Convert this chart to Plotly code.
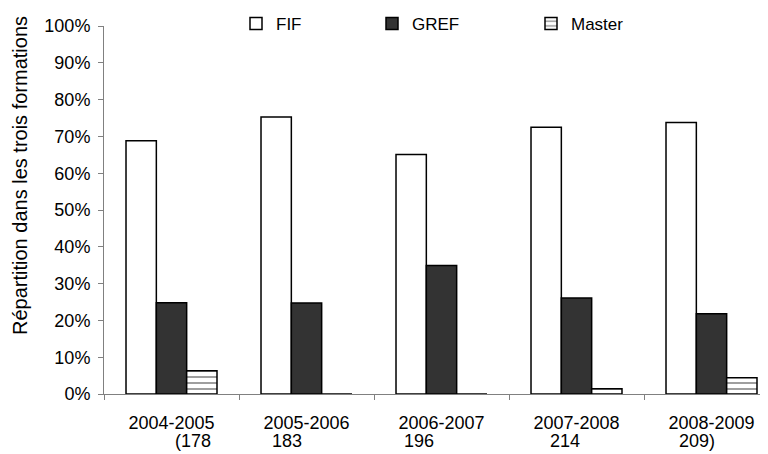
import plotly.graph_objects as go

categories = ["2004-2005", "2005-2006", "2006-2007", "2007-2008", "2008-2009"]
counts = ["(178", "183", "196", "214", "209)"]
count_shift = [21, -20, -23, -12, -15]
fif = [68.8, 75.3, 65.1, 72.5, 73.8]
gref = [24.8, 24.7, 34.9, 26.1, 21.8]
master = [6.3, 0, 0, 1.4, 4.4]
yticks = [0, 10, 20, 30, 40, 50, 60, 70, 80, 90, 100]

FONT = "Liberation Sans, Arial, sans-serif"
OFF = 8  # default page body margin
W, H = 768 - OFF, 454 - OFF
# plot area in screen pixels
SL, SR, ST, SB = 104, 768, 26, 394
PL, PR, PT, PB = SL - OFF, SR - OFF, ST - OFF, SB - OFF
PW, PH = PR - PL, PB - PT
x_idx = list(range(len(categories)))

fig = go.Figure()
fig.add_trace(go.Bar(x=x_idx, y=fif, name="FIF", legend="legend",
                     marker=dict(color="white", line=dict(color="black", width=1.5))))
fig.add_trace(go.Bar(x=x_idx, y=gref, name="GREF", legend="legend2",
                     marker=dict(color="#333333", line=dict(color="black", width=1.5))))
fig.add_trace(go.Bar(x=x_idx, y=master, name="Master", legend="legend3",
                     marker=dict(color="white", line=dict(color="black", width=1.5),
                                 pattern=dict(shape="-", fgcolor="black", bgcolor="white",
                                              size=6, solidity=0.25))))

annotations = []
for i, (c, s) in enumerate(zip(counts, count_shift)):
    annotations.append(dict(x=i, xref="x", y=(SB - 441) / PH, yref="paper",
                            text=c, showarrow=False, xshift=s, yanchor="middle",
                            font=dict(family=FONT, size=18, color="black")))
annotations.append(dict(x=(20 - SL) / PW, xref="paper", y=(SB - 176) / PH, yref="paper",
                        text="Répartition dans les trois formations", textangle=-90,
                        showarrow=False, xanchor="center", yanchor="middle",
                        font=dict(family=FONT, size=20, color="black")))

legend_common = dict(orientation="h", yref="container", y=1 - (24 - OFF) / H,
                     yanchor="middle", xref="container", xanchor="left",
                     bgcolor="rgba(0,0,0,0)",
                     font=dict(family=FONT, size=17, color="black"))

def leg_x(text_left):
    return (text_left - 41 - OFF) / W

fig.update_layout(
    width=W, height=H,
    margin=dict(l=PL, r=W - PR, t=PT, b=H - PB, autoexpand=False),
    paper_bgcolor="white", plot_bgcolor="white",
    barmode="group", bargap=0.326, bargroupgap=0,
    font=dict(family=FONT, size=18, color="black"),
    legend=dict(x=leg_x(277), **legend_common),
    legend2=dict(x=leg_x(413), **legend_common),
    legend3=dict(x=leg_x(572), **legend_common),
    annotations=annotations,
    xaxis=dict(type="linear", range=[-0.5, -0.5 + PW / 135],
               tickmode="array", tickvals=x_idx, ticktext=categories,
               showgrid=False, zeroline=False, showline=True, linecolor="#808080",
               linewidth=1, ticks="", ticklen=0, ticklabelstandoff=12,
               tickfont=dict(family=FONT, size=18, color="black")),
    xaxis2=dict(overlaying="x", matches="x", side="bottom", anchor="y",
                tickmode="array",
                tickvals=[i - 0.5 for i in range(len(categories) + 1)],
                ticks="outside", ticklen=5, tickcolor="#808080",
                showticklabels=False, showgrid=False, zeroline=False, showline=False),
    yaxis=dict(range=[0, 100], tickmode="array", tickvals=yticks,
               ticktext=[f"{v}%" for v in yticks],
               showgrid=False, zeroline=False, showline=True, linecolor="#808080",
               linewidth=1, ticks="outside", ticklen=5, tickcolor="#808080",
               ticklabelstandoff=4,
               tickfont=dict(family=FONT, size=18, color="black")),
)
fig.add_trace(go.Scatter(x=[None], y=[None], xaxis="x2", showlegend=False, hoverinfo="skip"))

fig.write_html("out.html")
